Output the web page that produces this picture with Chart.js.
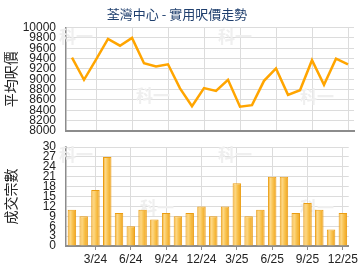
<!DOCTYPE html>
<html>
<head>
<meta charset="utf-8">
<script src="https://cdn.jsdelivr.net/npm/chart.js@4"></script>
<style>
  body { margin: 0; background: #fff; }
  #wrap { position: relative; width: 360px; height: 270px; overflow: hidden; }
  canvas { position: absolute; left: 0; }
</style>
</head>
<body>
<div id="wrap">
  <canvas id="priceChart" width="360" height="147" style="top:0"></canvas>
  <canvas id="dealChart" width="360" height="141" style="top:131px"></canvas>
</div>
<script>
// months 1/24 .. 12/25
const months = [
  "1/24", "2/24", "3/24", "4/24", "5/24", "6/24", "7/24", "8/24", "9/24", "10/24", "11/24", "12/24",
  "1/25", "2/25", "3/25", "4/25", "5/25", "6/25", "7/25", "8/25", "9/25", "10/25", "11/25", "12/25"
];

// average price per sq ft
const avgPrice = [9420, 8990, 9380, 9780, 9650, 9800, 9310, 9250, 9290, 8825, 8480, 8830,
                  8775, 8990, 8470, 8500, 8970, 9210, 8700, 8790, 9370, 8895, 9400, 9290];

// number of deals per month
const deals = [11, 9, 17, 27, 10, 6, 11, 8, 10, 9, 10, 12,
               9, 12, 19, 9, 11, 21, 21, 10, 13, 11, 5, 10];

const priceTicks = [8000, 8200, 8400, 8600, 8800, 9000, 9200, 9400, 9600, 9800, 10000];
const dealTicks = [0, 3, 6, 9, 12, 15, 18, 21, 24, 27, 30];

const gridCol = '#dcdcdc';
const axisCol = '#8c8c8c';
const font = "Arial, 'Liberation Sans', sans-serif";

// only every 3rd month gets a grid line / label
const showMonth = i => i % 3 === 2;

// faint "科一" watermark
const watermark = {
  id: 'watermark',
  beforeDatasetsDraw(chart, args, opts) {
    const ctx = chart.ctx;
    ctx.save();
    ctx.fillStyle = '#efefef';
    ctx.font = "bold 17px 'Noto Sans CJK TC', sans-serif";
    ctx.textAlign = 'center';
    ctx.textBaseline = 'middle';
    opts.spots.forEach(p => ctx.fillText('科一', p[0], p[1]));
    ctx.restore();
  }
};

function yAxis(ticks, title, labelFont) {
  return {
    min: ticks[0],
    max: ticks[ticks.length - 1],
    afterBuildTicks: s => { s.ticks = ticks.map(v => ({ value: v })); },
    afterFit: s => { s.width = 66; },
    border: { color: axisCol, width: 1.5 },
    grid: { color: gridCol, drawTicks: false },
    ticks: {
      color: '#222',
      font: labelFont,
      padding: 10,
      autoSkip: false,
      callback: v => String(v)
    },
    title: {
      display: true,
      text: title,
      color: '#222',
      font: { family: "'Noto Sans CJK TC', sans-serif", size: 14 },
      padding: { top: 2, bottom: 0 }
    }
  };
}

new Chart(document.getElementById('priceChart'), {
  type: 'line',
  data: {
    labels: months,
    datasets: [{
      data: avgPrice,
      borderColor: '#ffa500',
      borderWidth: 2.5,
      pointRadius: 0,
      tension: 0
    }]
  },
  options: {
    responsive: false,
    animation: false,
    layout: { padding: { left: 0, right: 6, bottom: 7 } },
    plugins: {
      legend: { display: false },
      tooltip: { enabled: false },
      title: {
        display: true,
        text: '荃灣中心 - 實用呎價走勢',
        color: '#1f3f6e',
        font: { family: "'Noto Sans CJK TC', sans-serif", size: 13, weight: 'normal' },
        padding: { top: 6, bottom: 6 }
      },
      watermark: { spots: [[76, 37], [235, 37], [153, 96], [317, 97]] }
    },
    scales: {
      x: {
        offset: true,
        border: { color: axisCol, width: 2 },
        grid: { offset: false, drawTicks: false, color: c => showMonth(c.index) ? gridCol : 'rgba(0,0,0,0)' },
        ticks: { display: false }
      },
      y: yAxis(priceTicks, '平均呎價', { family: font, size: 12, lineHeight: 1 })
    }
  },
  plugins: [watermark]
});

new Chart(document.getElementById('dealChart'), {
  type: 'bar',
  data: {
    labels: months,
    datasets: [{
      data: deals,
      barPercentage: 0.72,
      categoryPercentage: 1,
      borderColor: '#eb9d12',
      borderWidth: 1,
      borderSkipped: 'bottom',
      backgroundColor: c => {
        const xs = c.chart.scales.x;
        if (!xs || !xs.width) return '#f7bd45';
        const x = xs.getPixelForValue(c.dataIndex);
        const w = xs.width / months.length * 0.72;
        const g = c.chart.ctx.createLinearGradient(x - w / 2, 0, x + w / 2, 0);
        g.addColorStop(0, '#f3ad2e');
        g.addColorStop(0.3, '#fdd886');
        g.addColorStop(0.6, '#f8c14c');
        g.addColorStop(1, '#efa21e');
        return g;
      }
    }]
  },
  options: {
    responsive: false,
    animation: false,
    layout: { padding: { left: 0, right: 6, top: 8, bottom: 2 } },
    plugins: {
      legend: { display: false },
      tooltip: { enabled: false },
      watermark: { spots: [[76, 24], [235, 24], [157, 77], [317, 77]] }
    },
    scales: {
      x: {
        offset: true,
        afterFit: s => { s.height = 24; },
        border: { color: axisCol, width: 2 },
        grid: {
          offset: false,
          tickLength: 4,
          color: c => showMonth(c.index) ? gridCol : 'rgba(0,0,0,0)',
          tickColor: c => showMonth(c.index) ? axisCol : 'rgba(0,0,0,0)'
        },
        ticks: {
          color: '#222',
          font: { family: font, size: 12 },
          padding: 2,
          maxRotation: 0,
          autoSkip: false,
          callback: (v, i) => showMonth(i) ? months[i] : ''
        }
      },
      y: yAxis(dealTicks, '成交宗數', { family: "'Liberation Sans Narrow', " + font, size: 12, lineHeight: 1 })
    }
  },
  plugins: [watermark]
});
</script>
</body>
</html>
